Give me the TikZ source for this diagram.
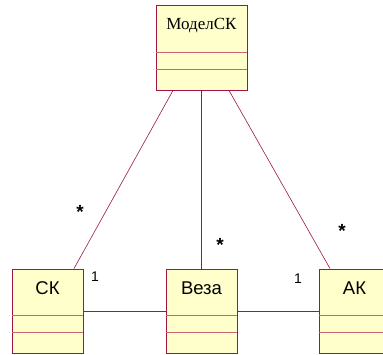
\documentclass[tikz,border=0pt]{standalone}
\usepackage{fontspec}
\setmainfont{Liberation Serif}
\setsansfont{Liberation Sans}
\usepackage{xcolor}
\usepackage{tikz}

\definecolor{clsfill}{RGB}{255,255,204}
\definecolor{clsline}{RGB}{160,20,70}
\definecolor{divline}{RGB}{200,100,120}

\tikzset{
  classbox/.style={draw=clsline, fill=clsfill, line width=0.9pt, minimum width=71pt, minimum height=84pt, inner sep=0pt},
  classname/.style={inner sep=0.75pt, font=\sffamily\fontsize{18.5}{20}\selectfont},
  divider/.style={draw=divline, line width=0.9pt},
  assoc/.style={draw=clsline, line width=0.6pt},
  mult/.style={inner sep=0.75pt, font=\sffamily\fontsize{14}{16}\selectfont},
  star/.style={inner sep=0.75pt, font=\sffamily\bfseries\fontsize{19}{21}\selectfont}
}

\begin{document}
\begin{tikzpicture}[x=1pt,y=1pt,yscale=-1,xscale=1]
\useasboundingbox (0,0) rectangle (383,354);

%Class: МоделСК
\node [classbox, minimum width=91pt, minimum height=85pt] (model) at (201.5,47.5) {};
\node [classname, font=\rmfamily\fontsize{17}{19}\selectfont] (model-name) at ([yshift=21]model.north) {МоделСК};
\draw [divider] ([yshift=-38]model.south west) -- ([yshift=-38]model.south east);
\draw [divider] ([yshift=-21]model.south west) -- ([yshift=-21]model.south east);

%Class: СК
\node [classbox] (sk) at (47.5,311) {};
\node [classname] (sk-name) at ([yshift=20]sk.north) {СК};
\draw [divider] ([yshift=-38]sk.south west) -- ([yshift=-38]sk.south east);
\draw [divider] ([yshift=-21]sk.south west) -- ([yshift=-21]sk.south east);

%Class: Веза
\node [classbox] (veza) at (201.5,311) {};
\node [classname] (veza-name) at ([yshift=20]veza.north) {Веза};
\draw [divider] ([yshift=-38]veza.south west) -- ([yshift=-38]veza.south east);
\draw [divider] ([yshift=-21]veza.south west) -- ([yshift=-21]veza.south east);

%Class: АК
\node [classbox] (ak) at (354.5,311) {};
\node [classname] (ak-name) at ([yshift=20]ak.north) {АК};
\draw [divider] ([yshift=-38]ak.south west) -- ([yshift=-38]ak.south east);
\draw [divider] ([yshift=-21]ak.south west) -- ([yshift=-21]ak.south east);

%Associations
\draw [assoc] ([xshift=-28.5]model.south) -- ([xshift=26.5]sk.north);
\draw [assoc] (model.south) -- (veza.north);
\draw [assoc] ([xshift=27.5]model.south) -- ([xshift=-24.5]ak.north);
\draw [assoc] (sk.east) -- (veza.west);
\draw [assoc] (veza.east) -- (ak.west);

% Multiplicities
\node [star] (m-sk) at (80,212) {*};
\node [star] (m-veza) at (220,245) {*};
\node [star] (m-ak) at (342,231) {*};
\node [mult] (one-sk) at (95,277) {1};
\node [mult] (one-ak) at (298,279) {1};
\end{tikzpicture}
\end{document}
